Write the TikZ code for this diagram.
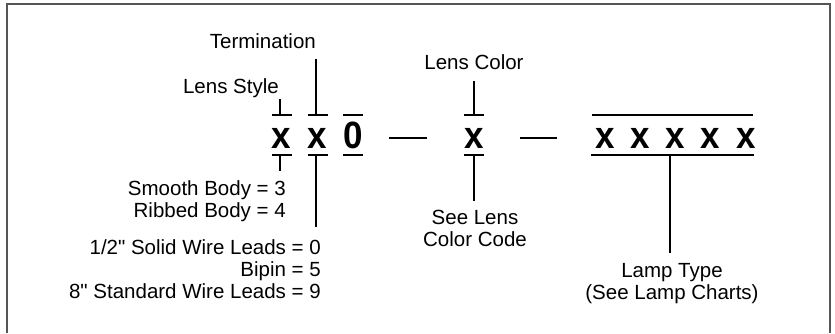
\documentclass[tikz,border=0pt]{standalone}
\usepackage{fontspec}
\setmainfont{Liberation Sans}[Ligatures=TeXOff]
\newfontfamily\codefont{Liberation Sans}[FakeStretch=0.92]
\definecolor{framegray}{RGB}{85,85,85}
\begin{document}
\begin{tikzpicture}[x=1pt,y=-1pt,
  lbl/.style={font=\fontsize{20.5}{22}\selectfont, inner sep=0pt},
  code/.style={font=\codefont\fontsize{38}{38}\selectfont\bfseries, inner sep=0pt, anchor=base},
  bar/.style={line width=2.7pt},
  lead/.style={line width=2pt},
  frameline/.style={line width=2pt, draw=framegray}]
\useasboundingbox (0,0) rectangle (835,333);
\draw[frameline] (7,333) -- (7,4) -- (830,4) -- (830,333);

% code characters
\node[code] (c1) at (281.5,148) {x};
\node[code] (c2) at (317.5,148) {x};
\node[code] (c3) at (353,148) {0};
\node[code] (c4) at (474,148) {x};
\foreach \i/\xx in {1/605,2/640,3/675,4/710,5/746}
  \node[code] (l\i) at (\xx,148) {x};

% bars above and below
\foreach \n in {c1,c2,c3,c4}{
  \draw[bar] ([xshift=-10pt]\n.center |- 0,115) -- ([xshift=10pt]\n.center |- 0,115);
  \draw[bar] ([xshift=-10pt]\n.center |- 0,155) -- ([xshift=10pt]\n.center |- 0,155);
}
\draw[bar] ([xshift=-13pt]l1.center |- 0,115) -- ([xshift=7pt]l5.center |- 0,115);
\draw[bar] ([xshift=-14pt]l1.center |- 0,155) -- ([xshift=8pt]l5.center |- 0,155);

% dashes
\coordinate (d1a) at (389,138); \coordinate (d1b) at (427,138);
\coordinate (d2a) at (520,138); \coordinate (d2b) at (557,138);
\draw[bar] (d1a) -- (d1b);
\draw[bar] (d2a) -- (d2b);

% labels above
\node[lbl, anchor=base east] (term) at (316,48) {Termination};
\node[lbl, anchor=base east] (style) at (279,93) {Lens Style};
\node[lbl, anchor=base] (color) at (474,69) {Lens Color};

% labels below
\node[lbl, anchor=base east] (smooth) at (286,195) {Smooth Body = 3};
\node[lbl, anchor=base east] (ribbed) at (286,217) {Ribbed Body = 4};
\node[lbl, anchor=base east] (solid) at (321,254) {1/2" Solid Wire Leads = 0};
\node[lbl, anchor=base east] (bipin) at (321,276) {Bipin = 5};
\node[lbl, anchor=base east] (std) at (321,298) {8" Standard Wire Leads = 9};
\node[lbl, anchor=base] (see1) at (475,224) {See Lens};
\node[lbl, anchor=base] (see2) at (475,246) {Color Code};
\node[lbl, anchor=base] (lamp1) at (672,277) {Lamp Type};
\node[lbl, anchor=base] (lamp2) at (672,299) {(See Lamp Charts)};

% leaders
\draw[lead] (280,99) -- (280,115);
\draw[lead] (316,59) -- (316,115);
\draw[lead] (474,81) -- (474,115);
\draw[lead] (280,155) -- (280,171);
\draw[lead] (316,155) -- (316,227);
\draw[lead] (474,155) -- (474,201);
\draw[lead] (670,155) -- (670,253);
\end{tikzpicture}
\end{document}
